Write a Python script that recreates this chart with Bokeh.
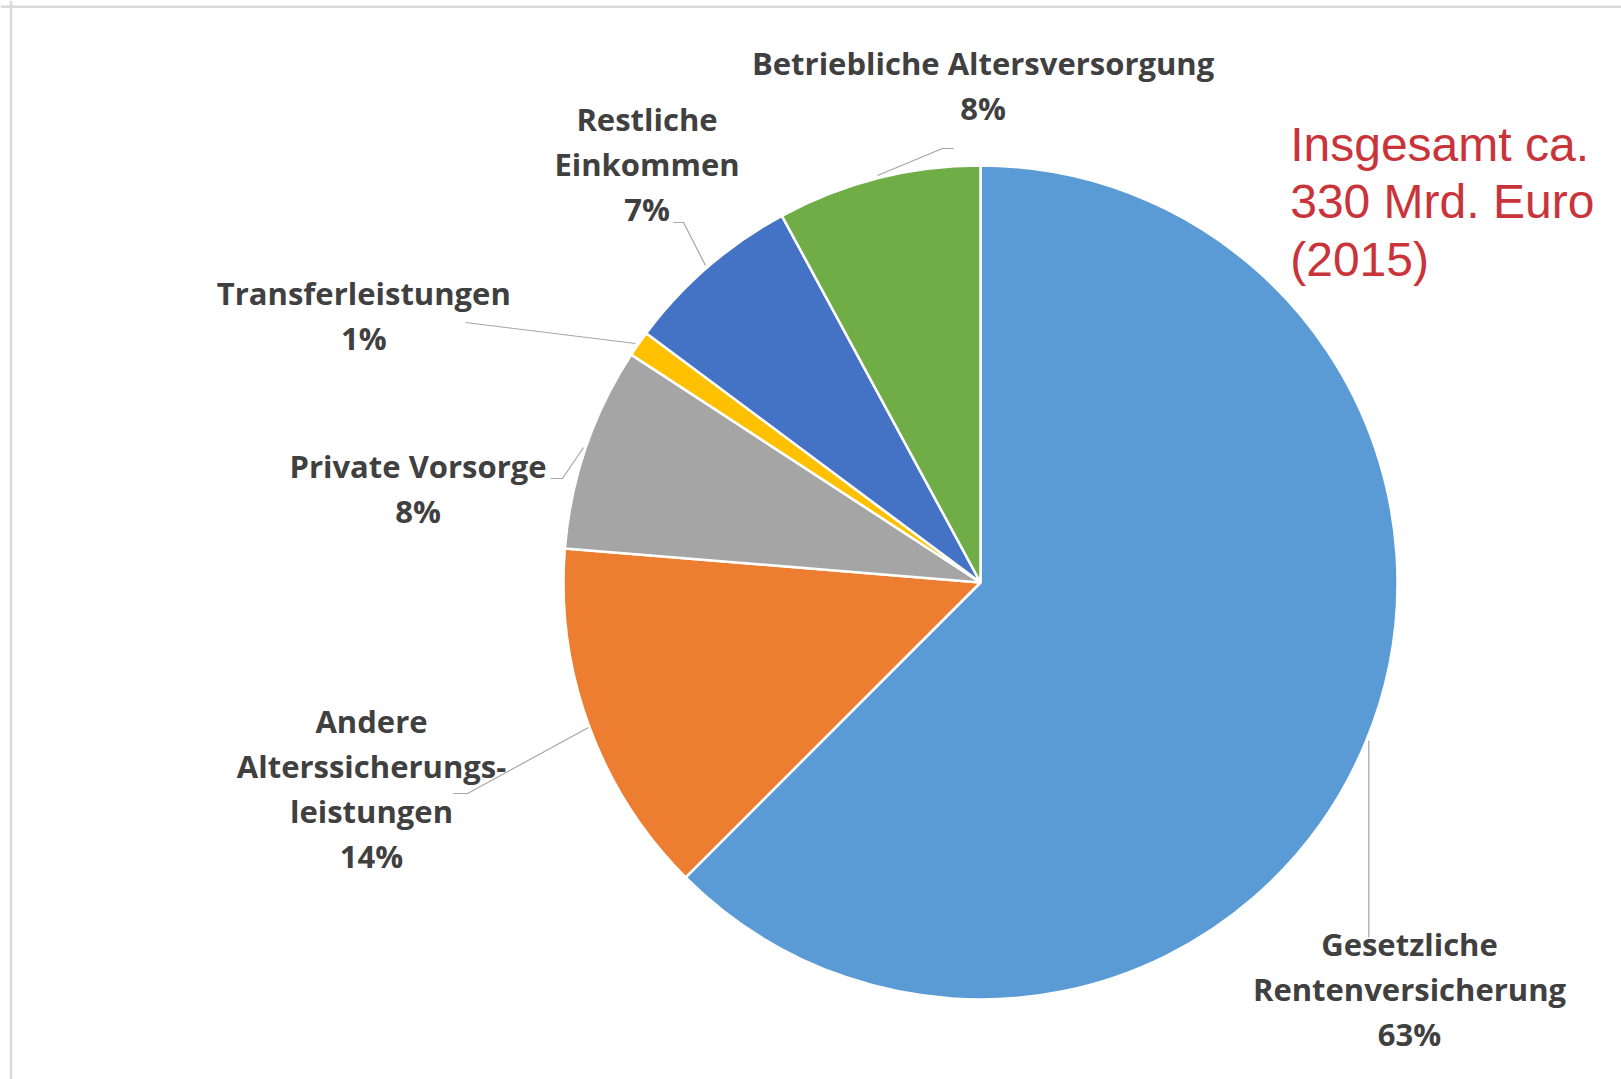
import numpy as np
from bokeh.plotting import figure
from bokeh.models import ColumnDataSource, Span, Range1d
from bokeh.core.properties import value
from bokeh.embed import file_html
from bokeh.resources import INLINE

# ---------------- data ----------------
categories = ["Gesetzliche Rentenversicherung", "Andere Alterssicherungsleistungen",
              "Private Vorsorge", "Transferleistungen", "Restliche Einkommen",
              "Betriebliche Altersversorgung"]
shares = [62.5, 13.8, 7.9, 1.0, 6.9, 7.9]
pct_labels = ["63%", "14%", "8%", "1%", "7%", "8%"]
label_lines = [["Gesetzliche", "Rentenversicherung"],
               ["Andere", "Alterssicherungs-", "leistungen"],
               ["Private Vorsorge"],
               ["Transferleistungen"],
               ["Restliche", "Einkommen"],
               ["Betriebliche Altersversorgung"]]
colors = ["#5B9BD5", "#ED7D31", "#A5A5A5", "#FFC000", "#4472C4", "#70AD47"]
note_lines = ["Insgesamt ca.", "330 Mrd. Euro", "(2015)"]

# ---------------- layout ----------------
W, H = 1621, 1079
OFF = 0  # page offset of the figure


def dx(X):
    return X - OFF


def dy(Y):
    return H + OFF - Y


CX, CY, R = dx(980), dy(582), 417

# label block: (center x, first baseline y) in page pixels
label_pos = [(1409, 943), (371, 720), (417.5, 465.3), (363.3, 292), (646.5, 118), (982.6, 62.3)]
LINE_GAP = 45.3

leaders = [
    [(1368.3, 740), (1368.3, 937)],
    [(453, 793), (467, 793), (588, 727)],
    [(550, 478), (562, 478), (583, 447)],
    [(465, 322), (635, 343)],
    [(673, 222), (683, 222), (705, 265)],
    [(877, 175), (942, 148), (953, 148)],
]

p = figure(width=W, height=H, output_backend="svg", toolbar_location=None,
           x_range=Range1d(0, W), y_range=Range1d(0, H),
           x_axis_location=None, y_axis_location=None, min_border=0,
           outline_line_color=None, background_fill_color="white",
           border_fill_color="white")
p.grid.grid_line_color = None

# frame lines (top and left)
p.add_layout(Span(location=dy(6.2), dimension="width", line_color="#D9D9D9", line_width=2.5))
p.add_layout(Span(location=dx(10.5), dimension="height", line_color="#D9D9D9", line_width=2.5))

# wedges
frac = np.array(shares) / np.sum(shares)
cum = np.concatenate([[0], np.cumsum(frac)])
start = np.pi / 2 - 2 * np.pi * cum[:-1]
end = np.pi / 2 - 2 * np.pi * cum[1:]
src = ColumnDataSource(dict(cat=categories, start=start, end=end, color=colors))
p.wedge(x=CX, y=CY, radius=R, start_angle="start", end_angle="end", direction="clock",
        fill_color="color", line_color="white", line_width=2.5, source=src)

# leader lines
p.multi_line(xs=[[dx(a) for a, b in l] for l in leaders],
             ys=[[dy(b) for a, b in l] for l in leaders],
             line_color="#A6A6A6", line_width=1.2)

# labels
tx, ty, tt = [], [], []
for lines, pct, (lx, ly) in zip(label_lines, pct_labels, label_pos):
    for i, s in enumerate(lines + [pct]):
        tx.append(dx(lx))
        ty.append(dy(ly + i * LINE_GAP))
        tt.append(s)
p.text(x=tx, y=ty, text=tt, text_font=value("Open Sans"), text_font_style="bold",
       text_font_size="31px", text_color="#404040", text_align="center",
       text_baseline="alphabetic")

# note
note_base = [144.2, 201.2, 258.5]
p.text(x=[dx(1289.7)] * 3, y=[dy(b) for b in note_base], text=note_lines,
       text_font=value("Liberation Sans"), text_font_size="48px", text_color="#C9343A",
       text_align="left", text_baseline="alphabetic")

open("out.html", "w").write(file_html(p, INLINE))
